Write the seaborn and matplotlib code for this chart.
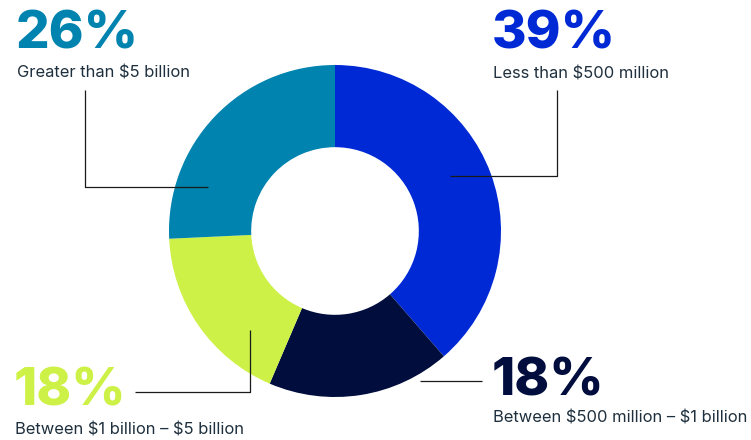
import matplotlib
matplotlib.use("Agg")
import matplotlib.pyplot as plt
import seaborn as sns

# Share of companies by annual revenue band
categories = ["Less than $500 million", "Between $500 million – $1 billion",
              "Between $1 billion – $5 billion", "Greater than $5 billion"]
shares = [39, 18, 18, 26]
colors = ["#0029D6", "#000D3D", "#CDF146", "#0083AE"]
pct_labels = [f"{v}%" for v in shares]

sns.set_theme(style="white")
plt.rcParams["font.family"] = ["Inter", "DejaVu Sans"]
plt.rcParams["text.parse_math"] = False

W, H = 751, 440
fig = plt.figure(figsize=(W / 100, H / 100), dpi=100)
ax = fig.add_axes([0, 0, 1, 1])

cx, cy, r = 335, 209, 166
ax.pie(shares, colors=colors, startangle=90, counterclock=False,
       center=(cx, cy), radius=r, frame=True,
       wedgeprops=dict(width=r * 0.495, linewidth=0))
ax.set_xlim(0, W)
ax.set_ylim(0, H)
ax.set_aspect("equal")
ax.axis("off")

text_col = "#1E2F3D"
line_kw = dict(color="#1a1a1a", linewidth=0.9, solid_capstyle="butt")

# leader lines (x path, y path)
leaders = [
    ([450, 557, 557], [264, 264, 350]),   # less than $500M
    ([420, 482], [59, 59]),               # $500M – $1B
    ([135, 250, 250], [48, 48, 110]),     # $1B – $5B
    ([208, 85, 85], [253, 253, 350]),     # greater than $5B
]
for xs, ys in leaders:
    ax.plot(xs, ys, **line_kw)

# percentage and label positions: (x, pct baseline, label baseline)
spots = [(492, 392, 362), (492, 45, 17), (14, 35, 5), (16, 392, 363)]
for (x, yp, yl), pct, lab, col in zip(spots, pct_labels, categories, colors):
    ax.text(x, yp, pct, color=col, fontsize=38, fontweight="heavy",
            ha="left", va="baseline", parse_math=False)
    ax.text(x + 1, yl, lab, color=text_col, fontsize=11.9,
            ha="left", va="baseline", parse_math=False)

fig.savefig("out.png", dpi=100)
